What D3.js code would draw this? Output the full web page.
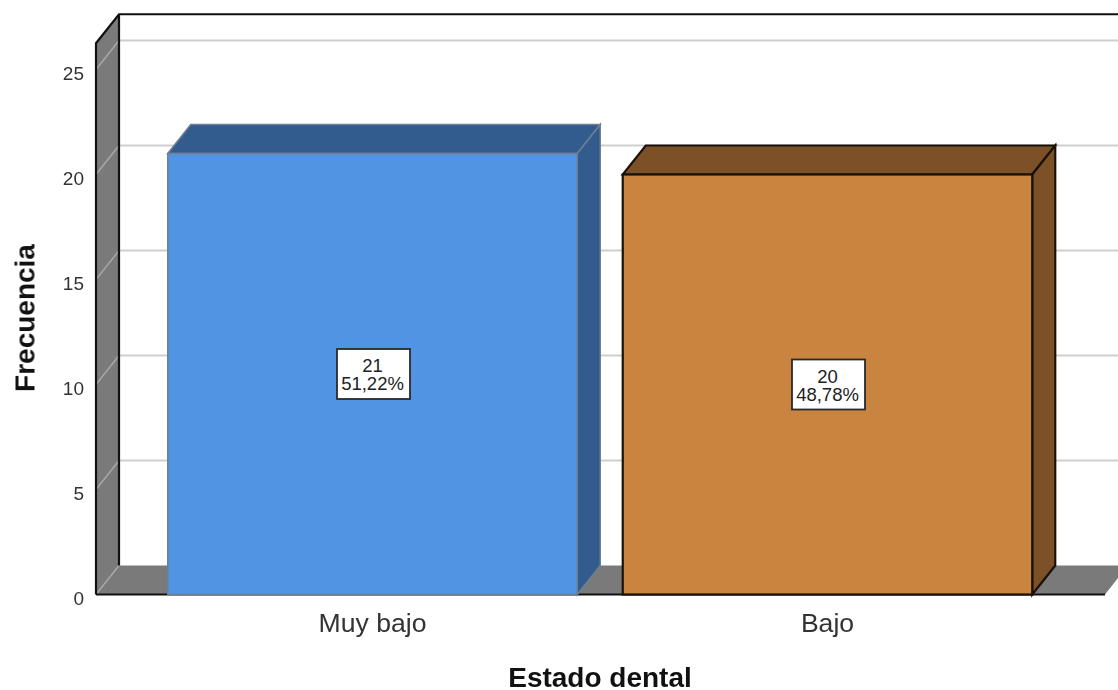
<!DOCTYPE html>
<html>
<head>
<meta charset="utf-8">
<style>
  html, body { margin: 0; padding: 0; background: #fff; overflow: hidden; }
  svg { display: block; filter: blur(0.55px); }
  text { font-family: "Liberation Sans", Arial, sans-serif; fill: #222; }
  .axis-title { font-weight: bold; font-size: 28px; fill: #111; }
  .cat-label { font-size: 26.6px; fill: #333; }
  .value-label { font-size: 18.5px; fill: #222; }
  .axis-y text { font-size: 19px; fill: #333; }
</style>
</head>
<body>
<svg width="1118" height="690"></svg>
<script src="https://d3js.org/d3.v7.min.js"></script>
<script>
const categories = ['Muy bajo', 'Bajo'];
const counts = [21, 20];
const percents = ['51,22%', '48,78%'];
const yTicks = [0, 5, 10, 15, 20, 25];
const frontColors = ['#5294e4', '#c98540'];
const sideColors = ['#335c8e', '#7d5127'];
const edgeColors = ['#6f7f92', '#1a1208'];
const edgeWidths = [1.5, 2.2];

const svg = d3.select('svg');

// 3d depth of the box, in pixels
const depthX = 23, depthY = -29;
const wallLeft = 96, wallRight = 1105, wallTopValue = 26.25;

const x = d3.scaleBand().domain(categories).range([145, 1055]).paddingInner(0.1).paddingOuter(0.05);
const y = d3.scaleLinear().domain([0, 25]).range([594.5, 69.5]);
const poly = pts => pts.map(p => p.join(',')).join(' ');

// back wall grid lines
svg.append('g').selectAll('line')
  .data(yTicks.slice(1))
  .enter().append('line')
    .attr('x1', wallLeft + depthX)
    .attr('x2', wallRight + depthX)
    .attr('y1', d => y(d) + depthY)
    .attr('y2', d => y(d) + depthY)
    .attr('stroke', '#cfcfcf')
    .attr('stroke-width', 2.2);

// left wall and floor
svg.append('polygon')
  .attr('points', poly([[wallLeft, y(0)], [wallLeft, y(wallTopValue)], [wallLeft + depthX, y(wallTopValue) + depthY], [wallLeft + depthX, y(0) + depthY]]))
  .attr('fill', '#7a7a7a');
svg.append('polygon')
  .attr('points', poly([[wallLeft, y(0)], [wallLeft + depthX, y(0) + depthY], [wallRight + depthX, y(0) + depthY], [wallRight, y(0)]]))
  .attr('fill', '#7a7a7a');

// grid lines running over the side wall
svg.append('g').selectAll('line')
  .data(yTicks)
  .enter().append('line')
    .attr('x1', wallLeft)
    .attr('x2', wallLeft + depthX)
    .attr('y1', d => y(d))
    .attr('y2', d => y(d) + depthY)
    .attr('stroke', '#a8a8a8')
    .attr('stroke-width', 1.5);

// frame
svg.append('path')
  .attr('d', `M${wallLeft},${y(0)}V${y(wallTopValue)}L${wallLeft + depthX},${y(wallTopValue) + depthY}H${wallRight + depthX}`
    + `M${wallLeft + depthX},${y(wallTopValue) + depthY}V${y(0) + depthY}`
    + `M${wallLeft},${y(0)}H${wallRight}`)
  .attr('fill', 'none')
  .attr('stroke', '#111')
  .attr('stroke-width', 2.2);

// bars
const bars = svg.append('g').selectAll('g')
  .data(categories)
  .enter().append('g');

bars.append('polygon')
  .attr('points', (d, i) => {
    const l = x(d), r = l + x.bandwidth(), t = y(counts[i]);
    return poly([[l, t], [l + depthX, t + depthY], [r + depthX, t + depthY], [r, t]]);
  })
  .attr('fill', (d, i) => sideColors[i])
  .attr('stroke', (d, i) => edgeColors[i])
  .attr('stroke-width', (d, i) => edgeWidths[i]);

bars.append('polygon')
  .attr('points', (d, i) => {
    const r = x(d) + x.bandwidth(), t = y(counts[i]);
    return poly([[r, t], [r + depthX, t + depthY], [r + depthX, y(0) + depthY], [r, y(0)]]);
  })
  .attr('fill', (d, i) => sideColors[i])
  .attr('stroke', (d, i) => edgeColors[i])
  .attr('stroke-width', (d, i) => edgeWidths[i]);

bars.append('rect')
  .attr('x', d => x(d))
  .attr('y', (d, i) => y(counts[i]))
  .attr('width', x.bandwidth())
  .attr('height', (d, i) => y(0) - y(counts[i]))
  .attr('fill', (d, i) => frontColors[i])
  .attr('stroke', (d, i) => edgeColors[i])
  .attr('stroke-width', (d, i) => edgeWidths[i]);

// value boxes, both lines live in one text
const boxW = 73, boxH = 50;
const boxes = bars.append('g')
  .attr('transform', (d, i) => `translate(${x(d) + x.bandwidth() / 2 + 1},${y(counts[i] / 2)})`);
boxes.append('rect')
  .attr('x', -boxW / 2)
  .attr('y', -boxH / 2)
  .attr('width', boxW)
  .attr('height', boxH)
  .attr('fill', '#fff')
  .attr('stroke', '#2a2a2a')
  .attr('stroke-width', 1.8);
const valueText = boxes.append('text')
  .attr('class', 'value-label')
  .attr('text-anchor', 'middle');
valueText.append('tspan')
  .attr('x', -1)
  .attr('y', -2)
  .text((d, i) => counts[i]);
valueText.append('tspan')
  .attr('x', -1)
  .attr('y', 16)
  .text((d, i) => percents[i]);

// y axis labels
const yAxis = svg.append('g')
  .attr('class', 'axis-y')
  .attr('transform', `translate(${wallLeft},0)`)
  .call(d3.axisLeft(y).tickValues(yTicks).tickSize(0).tickPadding(12));
yAxis.select('.domain').remove();
yAxis.selectAll('text').attr('dy', '0.53em');

// category labels
svg.append('g').selectAll('text')
  .data(categories)
  .enter().append('text')
    .attr('class', 'cat-label')
    .attr('text-anchor', 'middle')
    .attr('x', d => x(d) + x.bandwidth() / 2)
    .attr('y', 632)
    .text(d => d);

svg.append('text')
  .attr('class', 'axis-title')
  .attr('text-anchor', 'middle')
  .attr('x', 600)
  .attr('y', 687)
  .text('Estado dental');

svg.append('text')
  .attr('class', 'axis-title')
  .attr('text-anchor', 'middle')
  .attr('transform', 'translate(34.5,318) rotate(-90)')
  .text('Frecuencia');
</script>
</body>
</html>
